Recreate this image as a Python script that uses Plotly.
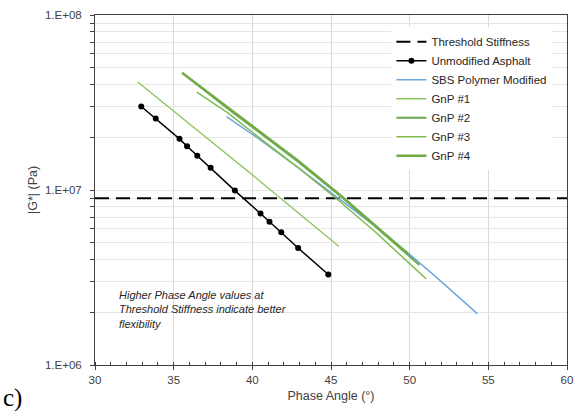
import plotly.graph_objects as go

# ---- data ----
threshold_x = [30, 60]
threshold_y = [8.97e6, 8.97e6]

unmod_x = [32.94, 33.86, 35.37, 35.85, 36.50, 37.35, 38.89, 40.52, 41.09, 41.84, 42.91, 44.83]
unmod_y = [3.00e7, 2.56e7, 1.96e7, 1.78e7, 1.57e7, 1.34e7, 9.92e6, 7.34e6, 6.58e6, 5.73e6, 4.66e6, 3.29e6]

sbs_x = [38.36, 40.35, 42.87, 45.38, 47.89, 49.89, 51.67, 54.31]
sbs_y = [2.63e7, 1.98e7, 1.35e7, 9.09e6, 6.14e6, 4.37e6, 3.19e6, 1.96e6]

gnp1_x = [32.70, 36.58, 40.35, 42.87, 45.49]
gnp1_y = [4.15e7, 2.17e7, 1.15e7, 7.47e6, 4.77e6]

gnp2_x = [35.64, 38.47, 40.35, 42.87, 45.69, 47.89, 49.89, 50.62]
gnp2_y = [4.60e7, 2.90e7, 2.17e7, 1.46e7, 9.1e6, 6.1e6, 4.25e6, 3.73e6]

gnp3_x = [36.47, 38.47, 40.35, 42.87, 45.32, 47.89, 51.06]
gnp3_y = [3.62e7, 2.75e7, 2.02e7, 1.35e7, 8.97e6, 5.68e6, 3.10e6]

gnp4_x = [35.53, 38.47, 40.35, 42.87, 45.69, 47.89, 49.89]
gnp4_y = [4.68e7, 2.95e7, 2.21e7, 1.48e7, 9.2e6, 6.22e6, 4.31e6]

x_ticks = [30, 35, 40, 45, 50, 55, 60]
y_major = [1e6, 1e7, 1e8]
y_major_text = ["1.E+06", "1.E+07", "1.E+08"]

FONT = "Liberation Sans, Arial, sans-serif"

fig = go.Figure()
fig.add_trace(go.Scatter(x=threshold_x, y=threshold_y, mode="lines", name="Threshold Stiffness",
                         line=dict(color="black", width=2, dash="14px,7px")))
fig.add_trace(go.Scatter(x=unmod_x, y=unmod_y, mode="lines+markers", name="Unmodified Asphalt",
                         line=dict(color="black", width=1.5), marker=dict(color="black", size=6)))
fig.add_trace(go.Scatter(x=sbs_x, y=sbs_y, mode="lines", name="SBS Polymer Modified",
                         line=dict(color="#6fa8dc", width=1.5)))
fig.add_trace(go.Scatter(x=gnp1_x, y=gnp1_y, mode="lines", name="GnP #1",
                         line=dict(color="#8cc45a", width=1.3)))
fig.add_trace(go.Scatter(x=gnp2_x, y=gnp2_y, mode="lines", name="GnP #2",
                         line=dict(color="#6aa84f", width=2)))
fig.add_trace(go.Scatter(x=gnp3_x, y=gnp3_y, mode="lines", name="GnP #3",
                         line=dict(color="#7dbb4f", width=1.5)))
fig.add_trace(go.Scatter(x=gnp4_x, y=gnp4_y, mode="lines", name="GnP #4",
                         line=dict(color="#70ad47", width=2.3)))

y_vals = []
y_text = []
for d in range(6, 9):
    for m in range(1, 10):
        if d == 8 and m > 1:
            break
        y_vals.append(m * 10 ** d)
        y_text.append(y_major_text[d - 6] if m == 1 else "")

fig.update_layout(
    width=580, height=418,
    margin=dict(l=95, r=7, t=15, b=53),
    paper_bgcolor="white", plot_bgcolor="white",
    font=dict(family=FONT, size=11.5, color="#404040"),
    showlegend=True,
    legend=dict(x=0.628, y=0.965, xanchor="left", yanchor="top",
                bgcolor="white", borderwidth=0,
                font=dict(family=FONT, size=11.5, color="#262626")),
    xaxis=dict(range=[30, 60], tickvals=x_ticks, showgrid=True, gridcolor="#d9d9d9", gridwidth=1,
               showline=True, linecolor="#404040", linewidth=1, mirror=True,
               ticks="outside", ticklen=4, tickcolor="#404040",
               minor=dict(dtick=1, ticks="inside", ticklen=3, tickcolor="#404040", showgrid=False),
               tickfont=dict(family=FONT, size=11.5, color="#404040"),
               title=dict(text="Phase Angle (°)", font=dict(family=FONT, size=12.5, color="#404040"), standoff=6),
               zeroline=False),
    yaxis=dict(type="log", range=[6, 8], tickvals=y_vals, ticktext=y_text,
               showgrid=True, gridcolor="#e6e6e6", gridwidth=1,
               showline=True, linecolor="#404040", linewidth=1, mirror=True,
               ticks="outside", ticklen=4, tickcolor="#404040", ticklabelstandoff=6,
               tickfont=dict(family=FONT, size=11.5, color="#404040"),
               title=dict(text="|G*| (Pa)", font=dict(family=FONT, size=12.5, color="#404040"), standoff=4),
               zeroline=False),
)

fig.add_annotation(xref="paper", yref="paper", x=(117 - 95) / 477.4, y=(365.5 - 287) / 350.5,
                   xanchor="left", yanchor="top", align="left", showarrow=False,
                   text="<i>Higher Phase Angle values at<br>Threshold Stiffness indicate better<br>flexibility</i>",
                   font=dict(family=FONT, size=11, color="#262626"))
fig.add_annotation(xref="paper", yref="paper", x=-95 / 477.4, y=-(399 - 365.5) / 350.5,
                   xanchor="left", yanchor="middle", showarrow=False, text="c)",
                   font=dict(family="Liberation Serif, Times New Roman, serif", size=25, color="black"))

fig.write_html("out.html", config={"displayModeBar": False},
               post_script="document.body.style.margin='0';")
